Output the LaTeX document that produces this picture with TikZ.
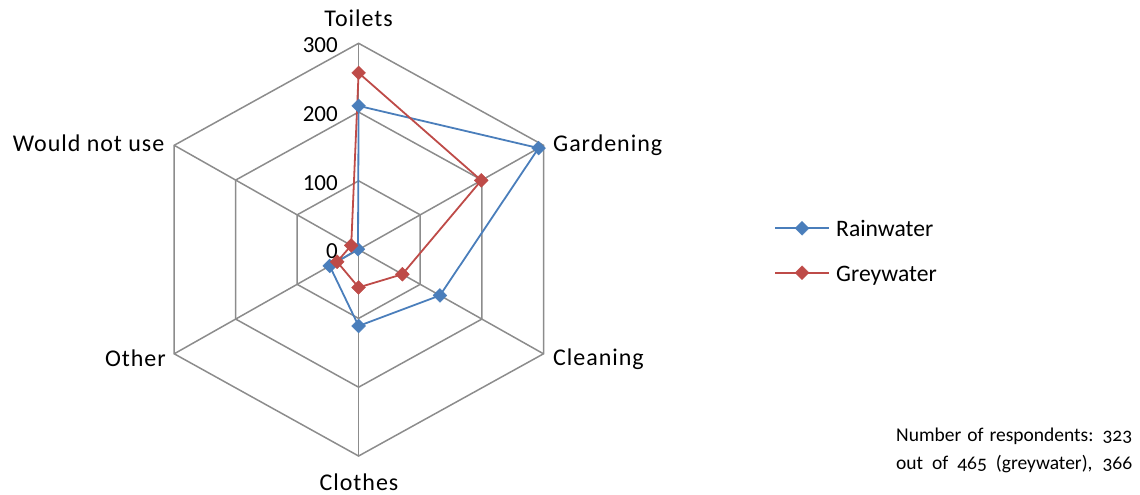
\documentclass[tikz,border=0pt]{standalone}
\usepackage{fontspec}
\setmainfont{Carlito}
\newfontfamily\labfont[LetterSpace=4]{Carlito}
\newfontfamily\notefont[Numbers=OldStyle]{Carlito}
\usetikzlibrary{calc,shapes.geometric}
\definecolor{rainblue}{HTML}{4A7EBB}
\definecolor{greyred}{HTML}{BE4B48}
\definecolor{gridgray}{HTML}{8C8C8C}
\begin{document}
\begin{tikzpicture}[x=1pt,y=-1pt,
  grid/.style={draw=gridgray,line width=1.5pt},
  series/.style={line width=1.8pt,line join=round},
  mk/.style={diamond,inner sep=0pt,minimum width=14pt,minimum height=14pt,draw=#1,fill=#1,line width=0.4pt},
  lab/.style={font=\labfont\fontsize{24}{28}\selectfont,inner sep=0pt},
  leg/.style={font=\fontsize{23.6}{28}\selectfont,inner sep=0pt,anchor=base west},
  tick/.style={font=\fontsize{23}{26}\selectfont,inner sep=0pt,anchor=east},
  note/.style={font=\notefont\fontsize{19.5}{27}\selectfont,inner sep=0pt,anchor=base west}]
\useasboundingbox (0,0) rectangle (1140,495);
% axes
\coordinate (C)  at (358.6,249.6);
\coordinate (V1) at (358.6,43.3);
\coordinate (V2) at (543.5,145.3);
\coordinate (V3) at (543.5,353.8);
\coordinate (V4) at (358.6,456);
\coordinate (V5) at (174.2,353.8);
\coordinate (V6) at (174.2,145.3);
\foreach \f in {0.33333,0.66667,1}
  \draw[grid] ($(C)!\f!(V1)$) -- ($(C)!\f!(V2)$) -- ($(C)!\f!(V3)$) -- ($(C)!\f!(V4)$) -- ($(C)!\f!(V5)$) -- ($(C)!\f!(V6)$) -- cycle;
\foreach \i in {1,...,6} \draw[grid] (C) -- (V\i);
% tick labels
\node[tick] (t300) at (338,45.3) {300};
\node[tick] (t200) at (338,114.2) {200};
\node[tick] (t100) at (338,183) {100};
\node[tick] (t0)   at (338,251.6) {0};
% category labels
\node[lab,anchor=base] (lT) at (358.6,27) {Toilets};
\node[lab,anchor=base west] (lG) at (553,151.7) {Gardening};
\node[lab,anchor=base west] (lC) at (553,365.7) {Cleaning};
\node[lab,anchor=base] (lO) at (359,490) {Clothes};
\node[lab,anchor=base east] (lX) at (166,366.7) {Other};
\node[lab,anchor=base east] (lW) at (164.5,151.7) {Would not use};
% data: rainwater
\coordinate (B1) at ($(C)!209/300!(V1)$);
\coordinate (B2) at ($(C)!292/300!(V2)$);
\coordinate (B3) at ($(C)!132/300!(V3)$);
\coordinate (B4) at ($(C)!111/300!(V4)$);
\coordinate (B5) at ($(C)!47/300!(V5)$);
\coordinate (B6) at ($(C)!1/300!(V6)$);
% data: greywater
\coordinate (R1) at ($(C)!257/300!(V1)$);
\coordinate (R2) at ($(C)!199/300!(V2)$);
\coordinate (R3) at ($(C)!71/300!(V3)$);
\coordinate (R4) at ($(C)!55/300!(V4)$);
\coordinate (R5) at ($(C)!35/300!(V5)$);
\coordinate (R6) at ($(C)!12/300!(V6)$);
\draw[series,rainblue] (B1) -- (B2) -- (B3) -- (B4) -- (B5) -- (B6) -- cycle;
\draw[series,greyred] (R1) -- (R2) -- (R3) -- (R4) -- (R5) -- (R6) -- cycle;
\foreach \i in {1,...,6} \node[mk=rainblue] (mb\i) at (B\i) {};
\foreach \i in {1,...,6} \node[mk=greyred] (mr\i) at (R\i) {};
% legend
\coordinate (lb1) at (775,228.3);
\coordinate (lb2) at (829,228.3);
\coordinate (lr1) at (775,272.7);
\coordinate (lr2) at (829,272.7);
\draw[series,rainblue] (lb1) -- (lb2);
\node[mk=rainblue] (lbm) at ($(lb1)!0.5!(lb2)$) {};
\draw[series,greyred] (lr1) -- (lr2);
\node[mk=greyred] (lrm) at ($(lr1)!0.5!(lr2)$) {};
\node[leg] (legB) at (836,236.7) {Rainwater};
\node[leg] (legR) at (836,281.2) {Greywater};
% note
\node[note] (n1) at (896,441.7) {\makebox[236pt][s]{Number of respondents: 323}};
\node[note] (n2) at (896,469) {\makebox[236pt][s]{out of 465 (greywater), 366}};
\end{tikzpicture}
\end{document}
